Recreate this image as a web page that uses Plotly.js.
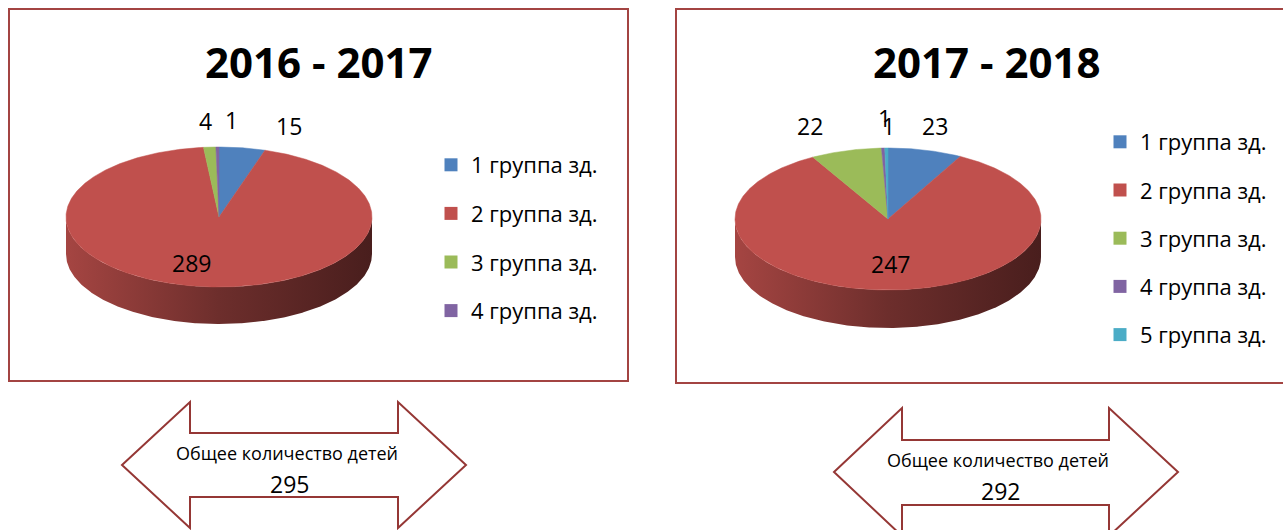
<!DOCTYPE html>
<html><head><meta charset="utf-8">
<script src="https://cdn.plot.ly/plotly-3.0.1.min.js"></script>
<style>html,body{margin:0;padding:0;background:#fff}#chart{width:1283px;height:530px}</style>
</head><body><div id="chart"></div>
<script>
// ---- data ----
const title1 = '2016 - 2017';
const groups1 = ['1 группа зд.', '2 группа зд.', '3 группа зд.', '4 группа зд.'];
const values1 = [15, 289, 4, 1];
const total1 = 295;

const title2 = '2017 - 2018';
const groups2 = ['1 группа зд.', '2 группа зд.', '3 группа зд.', '4 группа зд.', '5 группа зд.'];
const values2 = [23, 247, 22, 1, 1];
const total2 = 292;

const totalLabel = 'Общее количество детей';

// ---- style / layout ----
const colors = ['#4F81BD', '#C0504D', '#9BBB59', '#8064A2', '#4BACC6'];
const FONT = 'Open Sans, Noto Sans, DejaVu Sans, sans-serif';
const pie1 = {cx: 219, cy: 217, a: 153, b: 70, depth: 37};
const pie2 = {cx: 888, cy: 219, a: 153, b: 71, depth: 38};
// pixel nudges of data labels (dx, dy)
const nudge1 = [[47, -22], [-17, 1], [-4, -26], [14, -27]];
const nudge2 = [[10, -24], [1, -1], [-36, -25], [1, -30], [2, -22]];

function rim(p, deg, k, dz) {
  const r = deg * Math.PI / 180;
  return [p.cx + k * p.a * Math.sin(r), p.cy - k * p.b * Math.cos(r) + (dz || 0)];
}
function shade(hex, f) {
  const n = parseInt(hex.slice(1), 16);
  const r = Math.round(((n >> 16) & 255) * f), g = Math.round(((n >> 8) & 255) * f), b = Math.round((n & 255) * f);
  return 'rgb(' + r + ',' + g + ',' + b + ')';
}

const traces = [];
const annotations = [];

function buildPie(p, names, vals, nudge, legendId) {
  const total = vals.reduce((s, v) => s + v, 0);
  const angles = [];
  let acc = 0;
  vals.forEach(v => { angles.push([acc / total * 360, (acc + v) / total * 360]); acc += v; });
  // side walls (front half only)
  angles.forEach((ang, i) => {
    const s = Math.max(ang[0], 90), e = Math.min(ang[1], 270);
    if (e <= s) return;
    const n = Math.max(2, Math.ceil((e - s) / 0.5));
    const xs = [], ys = [];
    for (let j = 0; j <= n; j++) { const pt = rim(p, s + (e - s) * j / n, 1, 0); xs.push(pt[0]); ys.push(pt[1]); }
    for (let j = n; j >= 0; j--) { const pt = rim(p, s + (e - s) * j / n, 1, p.depth); xs.push(pt[0]); ys.push(pt[1]); }
    const c = colors[i % colors.length];
    traces.push({
      type: 'scatter', mode: 'lines', x: xs, y: ys, fill: 'toself',
      line: {width: 0, color: shade(c, 0.5)},
      fillgradient: {type: 'horizontal', colorscale: [[0, shade(c, 0.86)], [0.5, shade(c, 0.57)], [1, shade(c, 0.38)]]},
      showlegend: false, hoverinfo: 'skip'
    });
  });
  // top face slices
  angles.forEach((ang, i) => {
    const n = Math.max(2, Math.ceil((ang[1] - ang[0]) / 0.5));
    const xs = [p.cx], ys = [p.cy];
    for (let j = 0; j <= n; j++) { const pt = rim(p, ang[0] + (ang[1] - ang[0]) * j / n, 1, 0); xs.push(pt[0]); ys.push(pt[1]); }
    xs.push(p.cx); ys.push(p.cy);
    const c = colors[i % colors.length];
    traces.push({
      type: 'scatter', mode: 'lines', x: xs, y: ys, fill: 'toself', fillcolor: c,
      line: {width: 0.5, color: c}, name: names[i], showlegend: false, hoverinfo: 'skip'
    });
  });
  // data labels
  const maxV = Math.max(...vals);
  angles.forEach((ang, i) => {
    const mid = (ang[0] + ang[1]) / 2;
    const pt = vals[i] === maxV ? rim(p, mid, 0.65, 0) : rim(p, mid, 1, 0);
    annotations.push({
      x: pt[0], y: pt[1], xref: 'x', yref: 'y', text: String(vals[i]), showarrow: false,
      xshift: nudge[i][0], yshift: -nudge[i][1], xanchor: 'center', yanchor: 'middle',
      font: {family: FONT, size: 23, color: '#000'}
    });
  });
  // legend entries
  names.forEach((nm, i) => {
    traces.push({
      type: 'scatter', mode: 'markers', x: [null], y: [null], name: nm,
      marker: {symbol: 'square', size: 13, color: colors[i % colors.length]},
      legend: legendId, legendgroup: legendId + '-' + i, showlegend: true, hoverinfo: 'skip'
    });
  });
}

buildPie(pie1, groups1, values1, nudge1, 'legend');
buildPie(pie2, groups2, values2, nudge2, 'legend2');

// titles
annotations.push({x: 318, y: 61, xref: 'x', yref: 'y', text: title1, showarrow: false,
  font: {family: FONT, size: 42, color: '#000', weight: 700}});
annotations.push({x: 986, y: 61, xref: 'x', yref: 'y', text: title2, showarrow: false,
  font: {family: FONT, size: 42, color: '#000', weight: 700}});
// totals
annotations.push({x: 287, y: 453, xref: 'x', yref: 'y', text: totalLabel, showarrow: false,
  font: {family: FONT, size: 18, color: '#000'}});
annotations.push({x: 289, y: 484, xref: 'x', yref: 'y', text: String(total1), showarrow: false,
  font: {family: FONT, size: 23, color: '#000'}});
annotations.push({x: 998, y: 460, xref: 'x', yref: 'y', text: totalLabel, showarrow: false,
  font: {family: FONT, size: 18, color: '#000'}});
annotations.push({x: 1000, y: 491, xref: 'x', yref: 'y', text: String(total2), showarrow: false,
  font: {family: FONT, size: 23, color: '#000'}});

const boxLine = {color: '#A34442', width: 2};
const arrowLine = {color: '#953735', width: 2};
const shapes = [
  {type: 'rect', xref: 'x', yref: 'y', x0: 9, y0: 9, x1: 628, y1: 381, line: boxLine, layer: 'below'},
  {type: 'rect', xref: 'x', yref: 'y', x0: 676, y0: 9, x1: 1296, y1: 383, line: boxLine, layer: 'below'},
  {type: 'path', xref: 'x', yref: 'y', layer: 'below', fillcolor: '#fff', line: arrowLine,
    path: 'M122,465 L190,402 L190,433 L398,433 L398,402 L466,465 L398,528 L398,497 L190,497 L190,528 Z'},
  {type: 'path', xref: 'x', yref: 'y', layer: 'below', fillcolor: '#fff', line: arrowLine,
    path: 'M834,472 L902,408 L902,440 L1109,440 L1109,408 L1178,472 L1109,536 L1109,505 L902,505 L902,536 Z'}
];

const legendCommon = {
  xanchor: 'left', yanchor: 'top', bgcolor: 'rgba(0,0,0,0)', borderwidth: 0,
  font: {family: FONT, size: 22, color: '#000'}, traceorder: 'grouped', itemsizing: 'trace',
  itemclick: false, itemdoubleclick: false
};

const layout = {
  width: 1283, height: 530, margin: {l: 0, r: 0, t: 0, b: 0, pad: 0},
  paper_bgcolor: '#fff', plot_bgcolor: '#fff',
  xaxis: {range: [0, 1283], visible: false, fixedrange: true},
  yaxis: {range: [530, 0], visible: false, fixedrange: true},
  showlegend: true,
  legend: Object.assign({}, legendCommon, {x: 431 / 1283, y: 1 - 144 / 530, tracegroupgap: 17}),
  legend2: Object.assign({}, legendCommon, {x: 1100 / 1283, y: 1 - 121 / 530, tracegroupgap: 16.6}),
  annotations: annotations,
  shapes: shapes
};

Plotly.newPlot('chart', traces, layout, {displayModeBar: false, staticPlot: true});
</script>
</body></html>
